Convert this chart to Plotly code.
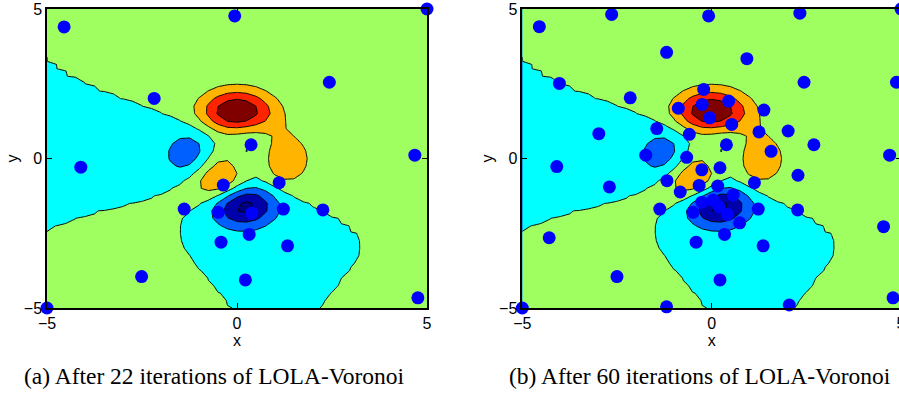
import numpy as np
import plotly.graph_objects as go

# ---- sample locations ----
# (a) after 22 iterations
a_x = [-4.55, -0.06, 5.00, 2.43, -2.18, 0.37, 4.68, -4.11, -0.36, -1.39, -0.49,
       -0.42, -2.51, -5.00, 1.11, 0.39, 1.22, 2.26, 0.32, 1.33, 0.22, 4.76]
a_y = [4.40, 4.77, 5.00, 2.55, 2.01, 0.46, 0.11, -0.29, -0.89, -1.69, -1.80,
       -2.80, -3.95, -5.00, -0.81, -1.83, -1.69, -1.72, -2.54, -2.92, -4.06, -4.66]

# (b) after 60 iterations
b_x = [-4.55, -2.64, -0.08, -1.19, -4.02, -2.15, -0.21, -0.88, -0.25, -1.45,
       -2.98, -0.59, -1.74, -0.66, -4.09, 2.33, 5.00, 0.93, 2.44, 4.88,
       0.45, -0.05, 1.38, 0.53, 1.25, 2.02, 0.39, 1.57, 2.70, 4.70,
       -0.26, 0.22, -2.70, -1.18, -0.83, -0.33, -1.37, -0.49, -0.26, -4.29,
       -0.41, -2.50, -5.00, -1.19, 2.28, 1.13, 0.16, 0.57, 0.04, 0.20,
       0.42, 1.23, 2.27, 0.74, 4.54, 0.34, 1.36, 0.22, 2.05, 4.79]
b_y = [4.41, 4.82, 4.77, 3.55, 2.51, 2.03, 2.31, 1.68, 1.81, 1.00,
       0.83, 0.81, 0.11, 0.04, -0.27, 4.86, 5.00, 3.34, 2.55, 2.55,
       1.92, 1.36, 1.62, 1.14, 0.89, 0.92, 0.46, 0.24, 0.46, 0.11,
       -0.38, -0.31, -0.95, -0.74, -1.12, -0.90, -1.69, -1.80, -1.46, -2.65,
       -2.80, -3.95, -5.00, -4.96, -0.56, -0.81, -0.92, -1.22, -1.39, -1.61,
       -1.87, -1.69, -1.72, -2.15, -2.28, -2.54, -2.92, -4.06, -4.90, -4.66]

tick_vals = [-5, 0, 5]
captions = ["(a) After 22 iterations of LOLA-Voronoi",
            "(b) After 60 iterations of LOLA-Voronoi"]

# ---- the underlying test function (MATLAB "peaks") on a grid ----
gx = np.linspace(-5, 5, 41)
gy = np.linspace(-5, 5, 41)
X, Y = np.meshgrid(gx, gy)
Z = (3 * (1 - X) ** 2 * np.exp(-X ** 2 - (Y + 1) ** 2)
     - 10 * (X / 5 - X ** 3 - Y ** 5) * np.exp(-X ** 2 - Y ** 2)
     - 1 / 3 * np.exp(-(X + 1) ** 2 - Y ** 2))

band_colors = ["#000080", "#0000AA", "#0060FF", "#00FFFF", "#A0FF60",
               "#FFB400", "#FF2400", "#800000", "#800000"]
cscale = [[i / 8, c] for i, c in enumerate(band_colors)]

# figure slightly wider than the 899 px window: the right panel is cut at the edge
W, H = 912, 405
fig = go.Figure()

for k, (px, py) in enumerate([(a_x, a_y), (b_x, b_y)]):
    xa = "x" if k == 0 else "x2"
    ya = "y" if k == 0 else "y2"
    fig.add_trace(go.Contour(
        x=gx, y=gy, z=Z, xaxis=xa, yaxis=ya,
        autocontour=False,
        contours=dict(start=-6, end=8, size=2, coloring="fill", showlines=True),
        line=dict(color="black", width=1, smoothing=0),
        colorscale=cscale, showscale=False, hoverinfo="skip",
    ))
    fig.add_trace(go.Scatter(
        x=px, y=py, xaxis=xa, yaxis=ya, mode="markers",
        marker=dict(color="#0000FF", size=13, line=dict(width=0)),
        cliponaxis=False, showlegend=False,
    ))

font = dict(family="Liberation Sans, Arial, sans-serif", size=16, color="black")
ydom = [1 - 308 / H, 1 - 9 / H]
common = dict(showgrid=False, zeroline=False, showline=True, linecolor="black",
              linewidth=1.5, ticks="inside", ticklen=5, tickcolor="black",
              tickvals=tick_vals, tickfont=font, automargin=False,
              mirror="allticks", range=[-5, 5])

fig.update_layout(
    width=W, height=H, autosize=False,
    margin=dict(l=0, r=0, t=0, b=0, autoexpand=False),
    paper_bgcolor="white", plot_bgcolor="white",
    showlegend=False,
    xaxis=dict(domain=[47 / W, 427 / W], anchor="y",
               title=dict(text="x", font=font, standoff=0), **common),
    yaxis=dict(domain=ydom, anchor="x",
               title=dict(text="y", font=font, standoff=1), **common),
    xaxis2=dict(domain=[522.3 / W, 901 / W], anchor="y2",
                title=dict(text="x", font=font, standoff=0), **common),
    yaxis2=dict(domain=ydom, anchor="x2",
                title=dict(text="y", font=font, standoff=1), **common),
)

for cx, txt in zip([214, 700], captions):
    fig.add_annotation(x=cx / W, y=1 - 376 / H, xref="paper", yref="paper",
                       text=txt, showarrow=False, xanchor="center", yanchor="middle",
                       font=dict(family="Liberation Serif, Times New Roman, serif",
                                 size=23.5, color="black"))

fig.write_html(
    "out.html",
    config={"displayModeBar": False},
    post_script="document.body.style.margin='0px';document.body.style.overflow='hidden';",
)
